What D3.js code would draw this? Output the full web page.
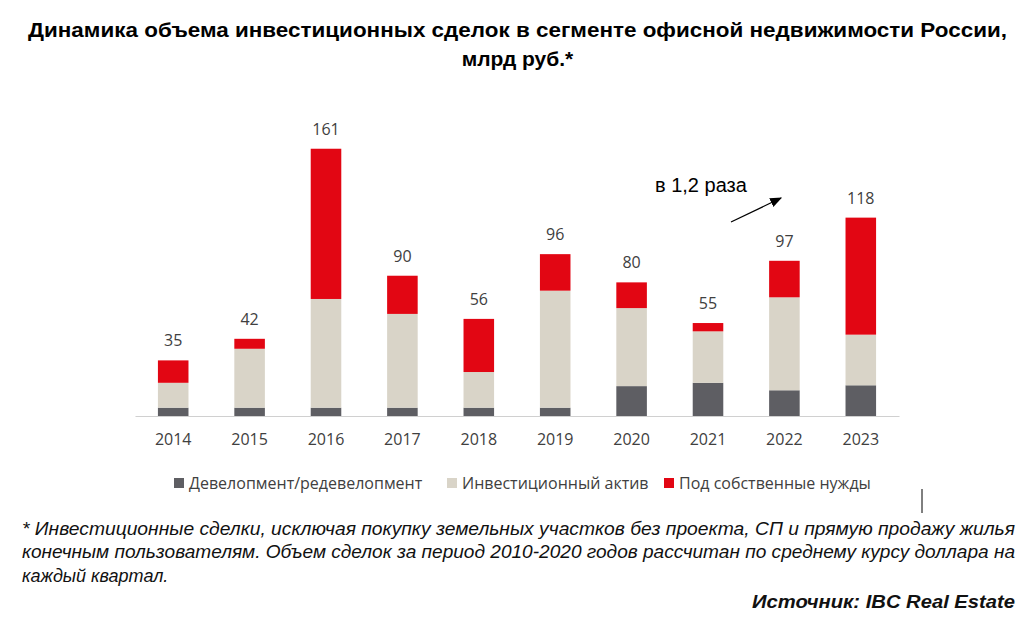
<!DOCTYPE html>
<html lang="ru">
    <head>
        <meta charset="utf-8">
        <title>Офисная недвижимость</title>
        <script src="https://d3js.org/d3.v7.min.js"></script>
        <style type="text/css">
            body { margin: 0; background: #fff; }
            svg { display: block; }
        </style>
    </head>
    <body>
        <script type="text/javascript">

            //1. sizes
            const svgW = 1035;
            const svgH = 630;
            const baseY = 416;
            const pxPerUnit = 1.66;

            //2. data
            const years = ["2014", "2015", "2016", "2017", "2018", "2019", "2020", "2021", "2022", "2023"];
            const development = [5, 5, 5, 5, 5, 5, 18, 20, 15.5, 18.5];
            const investment = [15, 35.5, 65.5, 56.5, 21.5, 70.5, 47, 31, 56, 30.5];
            const ownNeeds = [13.5, 6, 90.5, 23, 32, 22, 15.5, 5, 22, 70.5];
            const totals = [35, 42, 161, 90, 56, 96, 80, 55, 97, 118];
            const seriesNames = ["Девелопмент/редевелопмент", "Инвестиционный актив", "Под собственные нужды"];
            const colors = ["#5e5e63", "#d9d4c8", "#e20613"];

            const rows = years.map((y, i) => ({
                year: y, dev: development[i], inv: investment[i], own: ownNeeds[i], total: totals[i]
            }));
            const stack = d3.stack().keys(["dev", "inv", "own"])(rows);

            //3. scales
            const xScale = d3.scaleBand()
                            .domain(years)
                            .range([135, 899])
                            .paddingInner(0.6)
                            .paddingOuter(0.3);

            const yMax = (baseY - 148) / pxPerUnit;
            const yScale = d3.scaleLinear()
                            .domain([0, yMax])
                            .range([baseY, 148]);

            //4. svg
            const svg = d3.select("body")
                        .append("svg")
                        .attr("width", svgW)
                        .attr("height", svgH);

            // title
            svg.append("text")
                .attr("x", 517.5).attr("y", 37)
                .attr("text-anchor", "middle")
                .attr("font-family", "Liberation Sans, Arial, sans-serif")
                .attr("font-weight", "bold")
                .attr("font-size", "21px")
                .attr("textLength", 979)
                .attr("lengthAdjust", "spacingAndGlyphs")
                .text("Динамика объема инвестиционных сделок в сегменте офисной недвижимости России,");
            svg.append("text")
                .attr("x", 517.5).attr("y", 66)
                .attr("text-anchor", "middle")
                .attr("font-family", "Liberation Sans, Arial, sans-serif")
                .attr("font-weight", "bold")
                .attr("font-size", "21px")
                .text("млрд руб.*");

            // bars
            svg.selectAll("g.layer")
                .data(stack)
                .enter()
                .append("g")
                .attr("class", "layer")
                .attr("fill", (d, i) => colors[i])
                .selectAll("rect")
                .data(d => d)
                .enter()
                .append("rect")
                .attr("x", d => xScale(d.data.year))
                .attr("y", d => yScale(d[1]))
                .attr("width", xScale.bandwidth())
                .attr("height", d => yScale(d[0]) - yScale(d[1]));

            // total labels
            svg.selectAll("text.total")
                .data(rows)
                .enter()
                .append("text")
                .attr("class", "total")
                .attr("x", d => xScale(d.year) + xScale.bandwidth() / 2)
                .attr("y", d => yScale(d.dev + d.inv + d.own) - 14)
                .attr("text-anchor", "middle")
                .attr("font-family", "Open Sans, sans-serif")
                .attr("font-size", "16px")
                .attr("fill", "#404040")
                .text(d => d.total);

            // x axis
            const bottomAxis = d3.axisBottom()
                                .scale(xScale)
                                .tickSize(0)
                                .tickPadding(18);

            const xAxis = svg.append("g")
                .attr("transform", "translate(0," + baseY + ")")
                .call(bottomAxis);
            xAxis.select(".domain").attr("stroke", "#d0d0d0").attr("stroke-width", 1.2);
            xAxis.selectAll("text")
                .attr("font-family", "Open Sans, sans-serif")
                .attr("font-size", "16px")
                .attr("fill", "#404040");

            // annotation arrow
            const defs = svg.append("defs");
            defs.append("marker")
                .attr("id", "head")
                .attr("viewBox", "0 0 10 10")
                .attr("refX", 9).attr("refY", 5)
                .attr("markerWidth", 12).attr("markerHeight", 12)
                .attr("markerUnits", "userSpaceOnUse")
                .attr("orient", "auto")
                .append("path")
                .attr("d", "M0,1 L10,5 L0,9 Z")
                .attr("fill", "#000");
            svg.append("line")
                .attr("x1", 731).attr("y1", 222)
                .attr("x2", 781).attr("y2", 198)
                .attr("stroke", "#000").attr("stroke-width", 1.3)
                .attr("marker-end", "url(#head)");
            svg.append("text")
                .attr("x", 655).attr("y", 192)
                .attr("font-family", "Liberation Sans, Arial, sans-serif")
                .attr("font-size", "20px")
                .attr("fill", "#000")
                .text("в 1,2 раза");

            // legend
            const legendX = [174, 447, 664];
            const legend = svg.selectAll("g.legend")
                .data(seriesNames)
                .enter()
                .append("g")
                .attr("class", "legend")
                .attr("transform", (d, i) => "translate(" + legendX[i] + ",478)");
            legend.append("rect")
                .attr("width", 10).attr("height", 10)
                .attr("fill", (d, i) => colors[i]);
            legend.append("text")
                .attr("x", 15).attr("y", 10.5)
                .attr("font-family", "Open Sans, sans-serif")
                .attr("font-size", "16px")
                .attr("fill", "#404040")
                .text(d => d);

            // stray tick
            svg.append("line")
                .attr("x1", 922).attr("x2", 922)
                .attr("y1", 489).attr("y2", 513)
                .attr("stroke", "#000").attr("stroke-width", 1);

            // footnote
            const noteLines = [
                "* Инвестиционные сделки, исключая покупку земельных участков без проекта, СП и прямую продажу жилья",
                "конечным пользователям. Объем сделок за период 2010-2020 годов рассчитан по среднему курсу доллара на",
                "каждый квартал."
            ];
            svg.selectAll("text.note")
                .data(noteLines)
                .enter()
                .append("text")
                .attr("class", "note")
                .attr("x", 22)
                .attr("y", (d, i) => 535 + i * 23.3)
                .attr("font-family", "Liberation Sans, Arial, sans-serif")
                .attr("font-style", "italic")
                .attr("font-size", "18px")
                .attr("fill", "#111")
                .each(function(d, i) {
                    if (i < 2) d3.select(this).attr("textLength", 993).attr("lengthAdjust", "spacingAndGlyphs");
                })
                .text(d => d);

            svg.append("text")
                .attr("x", 1015).attr("y", 608)
                .attr("text-anchor", "end")
                .attr("font-family", "Liberation Sans, Arial, sans-serif")
                .attr("font-style", "italic")
                .attr("font-weight", "bold")
                .attr("font-size", "19px")
                .attr("textLength", 263)
                .attr("lengthAdjust", "spacingAndGlyphs")
                .attr("fill", "#111")
                .text("Источник: IBC Real Estate");

        </script>
    </body>
</html>
